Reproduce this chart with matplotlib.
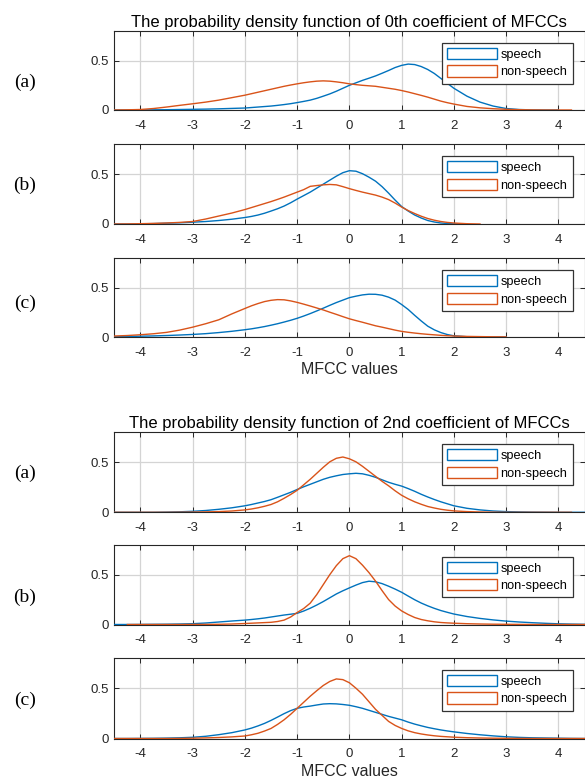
import numpy as np
import matplotlib
matplotlib.use("Agg")
import matplotlib.pyplot as plt
from matplotlib.patches import Patch
from matplotlib.ticker import FixedLocator, FixedFormatter

plt.rcParams['font.family'] = ['Liberation Sans', 'DejaVu Sans']
plt.rcParams['axes.unicode_minus'] = False

# ---------------- data ----------------
nan = float('nan')
x_values = ([-4.5, -4.25, -4.0, -3.75, -3.5, -3.25, -3.0, -2.75, -2.5, -2.25]
            + [-2.0, -1.875, -1.75, -1.625, -1.5, -1.375, -1.25, -1.125, -1.0, -0.875,
               -0.75, -0.625, -0.5, -0.375, -0.25, -0.125, 0.0, 0.125, 0.25, 0.375,
               0.5, 0.625, 0.75, 0.875, 1.0, 1.125, 1.25, 1.375, 1.5, 1.625,
               1.75, 1.875, 2.0]
            + [2.25, 2.5, 2.75, 3.0, 3.25, 3.5, 3.75, 4.0, 4.25, 4.5])

# 0th coefficient, (a)
c0a_speech = ([0, 0, 0.001, 0.002, 0.003, 0.005, 0.007, 0.009, 0.012, 0.016]
              + [0.02, 0.025, 0.03, 0.035, 0.04, 0.047, 0.055, 0.064, 0.075, 0.087,
                 0.1, 0.118, 0.14, 0.163, 0.19, 0.22, 0.25, 0.275, 0.30, 0.322,
                 0.345, 0.372, 0.40, 0.43, 0.452, 0.465, 0.46, 0.44, 0.41, 0.37,
                 0.32, 0.27, 0.22]
              + [0.14, 0.08, 0.04, 0.015, 0.005, 0.001, 0, 0, nan, nan])
c0a_nonspeech = ([0, 0.002, 0.005, 0.015, 0.03, 0.047, 0.063, 0.08, 0.10, 0.125]
                 + [0.15, 0.165, 0.18, 0.195, 0.21, 0.225, 0.24, 0.253, 0.265, 0.276,
                    0.285, 0.292, 0.295, 0.292, 0.285, 0.276, 0.265, 0.257, 0.25, 0.245,
                    0.24, 0.23, 0.22, 0.21, 0.197, 0.182, 0.165, 0.148, 0.13, 0.11,
                    0.09, 0.074, 0.06]
                 + [0.036, 0.022, 0.013, 0.007, 0.003, 0.001, 0, 0, 0, nan])
# 0th coefficient, (b)
c0b_speech = ([0, 0, 0.002, 0.004, 0.008, 0.012, 0.018, 0.025, 0.035, 0.048]
              + [0.065, 0.076, 0.09, 0.108, 0.13, 0.153, 0.18, 0.213, 0.25, 0.285,
                 0.32, 0.36, 0.40, 0.44, 0.48, 0.515, 0.535, 0.53, 0.505, 0.47,
                 0.43, 0.375, 0.31, 0.24, 0.175, 0.13, 0.09, 0.06, 0.035, 0.02,
                 0.01, 0.005, 0.002]
              + [0, nan, nan, nan, nan, nan, nan, nan, nan, nan])
c0b_nonspeech = ([0, 0.001, 0.003, 0.006, 0.01, 0.016, 0.025, 0.05, 0.08, 0.11]
                 + [0.145, 0.165, 0.185, 0.205, 0.225, 0.247, 0.27, 0.295, 0.32, 0.345,
                    0.378, 0.386, 0.393, 0.397, 0.393, 0.375, 0.355, 0.337, 0.32, 0.305,
                    0.29, 0.27, 0.245, 0.21, 0.17, 0.135, 0.105, 0.078, 0.055, 0.038,
                    0.025, 0.016, 0.01]
                 + [0.003, 0, nan, nan, nan, nan, nan, nan, nan, nan])
# 0th coefficient, (c)
c0c_speech = ([0.003, 0.005, 0.008, 0.011, 0.015, 0.02, 0.026, 0.034, 0.045, 0.058]
              + [0.074, 0.083, 0.094, 0.106, 0.12, 0.135, 0.152, 0.17, 0.19, 0.213,
                 0.238, 0.265, 0.293, 0.322, 0.35, 0.375, 0.40, 0.415, 0.428, 0.435,
                 0.434, 0.425, 0.405, 0.375, 0.33, 0.28, 0.22, 0.163, 0.11, 0.073,
                 0.045, 0.025, 0.012]
              + [0.003, 0.001, 0, 0, nan, nan, nan, nan, nan, nan])
c0c_nonspeech = ([0.01, 0.015, 0.023, 0.033, 0.047, 0.07, 0.10, 0.135, 0.175, 0.235]
                 + [0.29, 0.317, 0.34, 0.36, 0.373, 0.38, 0.378, 0.367, 0.352, 0.334,
                    0.315, 0.295, 0.275, 0.252, 0.23, 0.207, 0.185, 0.167, 0.15, 0.132,
                    0.114, 0.1, 0.085, 0.07, 0.057, 0.048, 0.04, 0.033, 0.027, 0.022,
                    0.017, 0.013, 0.01]
                 + [0.006, 0.004, 0.002, 0.001, nan, nan, nan, nan, nan, nan])
# 2nd coefficient, (a)
c2a_speech = ([0, 0, 0, 0, 0.002, 0.005, 0.01, 0.018, 0.03, 0.045]
              + [0.065, 0.078, 0.093, 0.108, 0.126, 0.15, 0.175, 0.2, 0.228, 0.255,
                 0.28, 0.305, 0.33, 0.35, 0.365, 0.378, 0.385, 0.39, 0.385, 0.37,
                 0.35, 0.325, 0.30, 0.28, 0.262, 0.237, 0.21, 0.18, 0.153, 0.128,
                 0.105, 0.085, 0.065]
              + [0.04, 0.024, 0.013, 0.007, 0.004, 0.002, 0.001, 0, 0, 0])
c2a_nonspeech = ([0, 0, 0, 0, 0, 0.001, 0.002, 0.004, 0.007, 0.013]
                 + [0.024, 0.033, 0.045, 0.06, 0.078, 0.105, 0.14, 0.178, 0.22, 0.275,
                    0.33, 0.39, 0.45, 0.505, 0.54, 0.553, 0.535, 0.505, 0.46, 0.41,
                    0.36, 0.31, 0.265, 0.215, 0.17, 0.135, 0.105, 0.08, 0.058, 0.043,
                    0.03, 0.021, 0.014]
                 + [0.007, 0.003, 0.001, 0, 0, 0, 0, 0, 0, nan])
# 2nd coefficient, (b)
c2b_speech = ([0, 0, 0.001, 0.002, 0.003, 0.005, 0.008, 0.015, 0.025, 0.035]
              + [0.044, 0.05, 0.057, 0.065, 0.075, 0.085, 0.095, 0.103, 0.112, 0.135,
                 0.163, 0.195, 0.23, 0.268, 0.306, 0.338, 0.367, 0.395, 0.42, 0.434,
                 0.428, 0.41, 0.384, 0.355, 0.323, 0.285, 0.248, 0.215, 0.187, 0.162,
                 0.14, 0.122, 0.105]
              + [0.08, 0.061, 0.046, 0.034, 0.025, 0.018, 0.012, 0.007, 0.004, 0.002])
c2b_nonspeech = ([nan, 0, 0, 0, 0, 0, 0.001, 0.001, 0.002, 0.005]
                 + [0.01, 0.013, 0.016, 0.019, 0.022, 0.03, 0.044, 0.075, 0.12, 0.16,
                    0.214, 0.3, 0.40, 0.5, 0.59, 0.66, 0.69, 0.66, 0.595, 0.52,
                    0.435, 0.34, 0.25, 0.185, 0.136, 0.1, 0.07, 0.05, 0.037, 0.027,
                    0.02, 0.016, 0.013]
                 + [0.008, 0.005, 0.003, 0.002, 0.001, 0, 0, 0, 0, 0])
# 2nd coefficient, (c)
c2c_speech = ([0, 0, 0.001, 0.002, 0.004, 0.007, 0.012, 0.022, 0.038, 0.058]
              + [0.085, 0.103, 0.125, 0.15, 0.18, 0.213, 0.247, 0.277, 0.30, 0.313,
                 0.322, 0.333, 0.343, 0.346, 0.344, 0.338, 0.33, 0.316, 0.30, 0.28,
                 0.26, 0.24, 0.22, 0.203, 0.186, 0.163, 0.143, 0.126, 0.11, 0.097,
                 0.085, 0.075, 0.066]
              + [0.05, 0.037, 0.026, 0.017, 0.011, 0.007, 0.005, 0.003, 0.001, 0])
c2c_nonspeech = ([0, 0, 0, 0, 0, 0.001, 0.003, 0.006, 0.01, 0.016]
                 + [0.025, 0.037, 0.052, 0.074, 0.1, 0.14, 0.186, 0.24, 0.30, 0.36,
                    0.42, 0.475, 0.527, 0.567, 0.592, 0.585, 0.554, 0.5, 0.44, 0.365,
                    0.29, 0.23, 0.17, 0.13, 0.1, 0.076, 0.058, 0.045, 0.035, 0.027,
                    0.021, 0.017, 0.013]
                 + [0.008, 0.005, 0.003, 0.002, 0.001, 0, 0, 0, 0, 0])

series_names = ['speech', 'non-speech']
panel_labels = ['(a)', '(b)', '(c)', '(a)', '(b)', '(c)']
titles = ['The probability density function of 0th coefficient of MFCCs',
          'The probability density function of 2nd coefficient of MFCCs']
x_label = 'MFCC values'
x_ticks = [-4, -3, -2, -1, 0, 1, 2, 3, 4]
x_tick_labels = ['-4', '-3', '-2', '-1', '0', '1', '2', '3', '4']
y_ticks = [0, 0.5]
y_tick_labels = ['0', '0.5']

panels = [(c0a_speech, c0a_nonspeech), (c0b_speech, c0b_nonspeech),
          (c0c_speech, c0c_nonspeech), (c2a_speech, c2a_nonspeech),
          (c2b_speech, c2b_nonspeech), (c2c_speech, c2c_nonspeech)]

# ---------------- layout ----------------
W, H = 585, 778
fig = plt.figure(figsize=(W / 100, H / 100), dpi=100)
left_px, right_px = 114.3, 584.5
tops_bottoms = [(31, 110), (144.3, 224), (258.3, 337), (432.3, 512.3),
                (544.7, 624.5), (658, 738.5)]
label_y_px = [82, 185, 303, 473, 597, 700]

blue = '#0072BD'
orange = '#D95319'
dark = '#262626'

for i, ((sp, ns), (t, b)) in enumerate(zip(panels, tops_bottoms)):
    ax = fig.add_axes([left_px / W, 1 - b / H, (right_px - left_px) / W, (b - t) / H])
    ax.plot(x_values, sp, color=blue, lw=1.0, zorder=3)
    ax.plot(x_values, ns, color=orange, lw=1.0, zorder=4)
    ax.set_xlim(-4.5, 4.5)
    ax.set_ylim(0, 0.8)
    ax.xaxis.set_major_locator(FixedLocator(x_ticks))
    ax.xaxis.set_major_formatter(FixedFormatter(x_tick_labels))
    ax.yaxis.set_major_locator(FixedLocator(y_ticks))
    ax.yaxis.set_major_formatter(FixedFormatter(y_tick_labels))
    ax.grid(True, color='#d4d4d4', lw=0.9, zorder=0)
    ax.set_axisbelow(True)
    ax.tick_params(direction='in', length=3.5, width=0.7, top=True, right=True,
                   labelsize=9.5, colors=dark)
    ax.tick_params(axis='x', pad=7)
    ax.tick_params(axis='y', pad=4)
    for s in ax.spines.values():
        s.set_color(dark)
        s.set_linewidth(0.8)
    handles = [Patch(facecolor='none', edgecolor=blue, lw=1.0),
               Patch(facecolor='none', edgecolor=orange, lw=1.0)]
    leg = ax.legend(handles, series_names, loc='upper right',
                    bbox_to_anchor=(1 - 12 / (right_px - left_px), 1 - 12 / (b - t)),
                    borderaxespad=0, fontsize=9.2, handlelength=3.9, handleheight=0.95,
                    handletextpad=0.3, labelspacing=0.35, borderpad=0.4,
                    fancybox=False, framealpha=1, edgecolor='#333333')
    leg.get_frame().set_linewidth(0.9)
    if i in (0, 3):
        ax.set_title(titles[i // 3], fontsize=12, pad=3, color='black')
    if i in (2, 5):
        ax.set_xlabel(x_label, fontsize=11.5, labelpad=2.5, color=dark)
    fig.text(25 / W, 1 - label_y_px[i] / H, panel_labels[i], family='Liberation Serif',
             fontsize=14, ha='center', va='center')

fig.savefig('out.png', dpi=100)
